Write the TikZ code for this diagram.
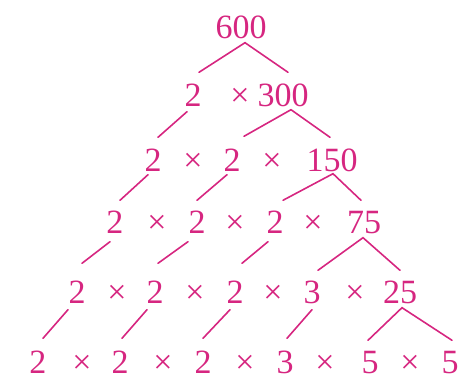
\documentclass[tikz,border=0pt]{standalone}
\usepackage{fontspec}
\setmainfont{Liberation Serif}
\usetikzlibrary{calc}
\definecolor{factorpink}{RGB}{214,38,128}

\begin{document}
\begin{tikzpicture}[x=1pt,y=-1pt,
				num/.style={inner sep=0pt,text height=23pt,text depth=0pt,
					text=factorpink,font=\fontsize{34}{34}\selectfont},
				branch/.style={draw=factorpink,line width=1.6pt,line cap=round,line join=miter}]
				\useasboundingbox (0,0) rectangle (467,378);
				% row 0
				\node[num] (r0) at (241,27) {600};
				% row 1
				\node[num] (r1a) at (193,95) {2};
				\node[num] (r1x1) at (240,95) {×};
				\node[num] (r1b) at (283,95) {300};
				% row 2
				\node[num] (r2a) at (153,160) {2};
				\node[num] (r2x1) at (193,160) {×};
				\node[num] (r2b) at (232,160) {2};
				\node[num] (r2x2) at (272,160) {×};
				\node[num] (r2c) at (332,160) {150};
				% row 3
				\node[num] (r3a) at (115,222) {2};
				\node[num] (r3x1) at (157,222) {×};
				\node[num] (r3b) at (197,222) {2};
				\node[num] (r3x2) at (235,222) {×};
				\node[num] (r3c) at (275,222) {2};
				\node[num] (r3x3) at (313,222) {×};
				\node[num] (r3d) at (364,222) {75};
				% row 4
				\node[num] (r4a) at (77,292) {2};
				\node[num] (r4x1) at (117,292) {×};
				\node[num] (r4b) at (155,292) {2};
				\node[num] (r4x2) at (195,292) {×};
				\node[num] (r4c) at (235,292) {2};
				\node[num] (r4x3) at (273,292) {×};
				\node[num] (r4d) at (312,292) {3};
				\node[num] (r4x4) at (355,292) {×};
				\node[num] (r4e) at (400,292) {25};
				% row 5
				\node[num] (r5a) at (38,362) {2};
				\node[num] (r5x1) at (82,362) {×};
				\node[num] (r5b) at (120,362) {2};
				\node[num] (r5x2) at (163,362) {×};
				\node[num] (r5c) at (203,362) {2};
				\node[num] (r5x3) at (245,362) {×};
				\node[num] (r5d) at (285,362) {3};
				\node[num] (r5x4) at (325,362) {×};
				\node[num] (r5e) at (370,362) {5};
				\node[num] (r5x5) at (410,362) {×};
				\node[num] (r5f) at (450,362) {5};
				% splits
				\draw[branch] ($(r1a.north)+(6,-11)$) -- ($(r0.south)+(4,4)$) -- ($(r1b.north)+(5,-11)$);
				\draw[branch] ($(r2b.north)+(12,-12)$) -- ($(r1b.south)+(8,3)$) -- ($(r2c.north)+(-2,-11)$);
				\draw[branch] ($(r3c.north)+(8,-10)$) -- ($(r2c.south)+(1,2)$) -- ($(r3d.north)+(-3,-10)$);
				\draw[branch] ($(r4d.north)+(6,-10)$) -- ($(r3d.south)+(-1,4)$) -- ($(r4e.north)+(0,-10)$);
				\draw[branch] ($(r5e.north)+(-2,-10)$) -- ($(r4e.south)+(2,4)$) -- ($(r5f.north)+(2,-10)$);
				% carried factors
				\draw[branch] ($(r1a.south)+(-6,5)$) -- ($(r2a.north)+(5,-11)$);
				\draw[branch] ($(r2a.south)+(-5,3)$) -- ($(r3a.north)+(5,-10)$);
				\draw[branch] ($(r2b.south)+(-5,3)$) -- ($(r3b.north)+(0,-10)$);
				\draw[branch] ($(r3a.south)+(-5,8)$) -- ($(r4a.north)+(5,-17)$);
				\draw[branch] ($(r3b.south)+(-9,8)$) -- ($(r4b.north)+(3,-17)$);
				\draw[branch] ($(r3c.south)+(-7,8)$) -- ($(r4c.north)+(7,-17)$);
				\draw[branch] ($(r4a.south)+(-9,6)$) -- ($(r5a.north)+(5,-12)$);
				\draw[branch] ($(r4b.south)+(-8,6)$) -- ($(r5b.north)+(2,-12)$);
				\draw[branch] ($(r4c.south)+(-5,6)$) -- ($(r5c.north)+(0,-12)$);
				\draw[branch] ($(r4d.south)+(0,6)$) -- ($(r5d.north)+(2,-12)$);
			\end{tikzpicture}
\end{document}
